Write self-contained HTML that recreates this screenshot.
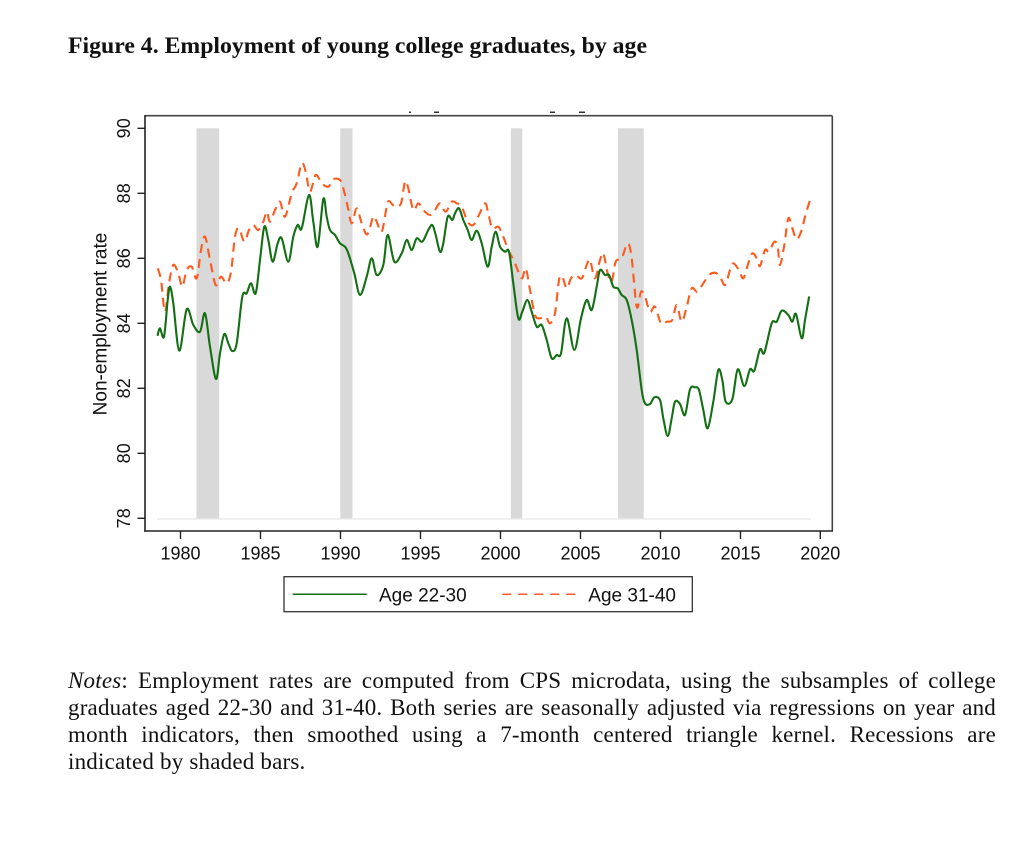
<!DOCTYPE html>
<html>
<head>
<meta charset="utf-8">
<style>
html,body{margin:0;padding:0;background:#fff;}
body{width:1023px;height:841px;position:relative;overflow:hidden;}
.note{position:absolute;left:68px;width:928px;font-family:"Liberation Serif",serif;font-size:23px;letter-spacing:0.2px;line-height:27px;height:27px;color:#111;white-space:nowrap;}
.j{text-align:justify;text-align-last:justify;white-space:normal;}
</style>
</head>
<body>
<svg width="1023" height="841" viewBox="0 0 1023 841" xmlns="http://www.w3.org/2000/svg" style="position:absolute;left:0;top:0">
  <!-- Title -->
  <text x="68" y="53" font-family="Liberation Serif, serif" font-weight="bold" font-size="23.5" fill="#111" textLength="579" lengthAdjust="spacingAndGlyphs">Figure 4. Employment of young college graduates, by age</text>

  <!-- clipped title remnants -->
  <rect x="409" y="111.5" width="2" height="1.5" fill="#333"/>
  <rect x="434" y="111.5" width="5" height="1.5" fill="#333"/>
  <rect x="550" y="111.5" width="5" height="1.5" fill="#333"/>
  <rect x="579" y="111.5" width="6" height="1.5" fill="#333"/>

  <!-- recession bars -->
  <g fill="#d9d9d9">
    <rect x="196.5" y="128.3" width="22.7" height="390.7"/>
    <rect x="340.3" y="128.3" width="12.2" height="390.7"/>
    <rect x="510.8" y="128.3" width="11.5" height="390.7"/>
    <rect x="618" y="128.3" width="25.7" height="390.7"/>
  </g>
  <!-- faint baseline -->
  <line x1="157" y1="519" x2="811" y2="519" stroke="#ececec" stroke-width="1.5"/>

  <!-- series: Age 31-40 -->
  <polyline class="smooth" fill="none" stroke="#ff5a1e" stroke-width="2.1" stroke-dasharray="9 6" stroke-linejoin="round" stroke-linecap="butt" points="157.7,268.3 161,280 165,311.7 169,283.3 173.3,265 178.3,273.3 182.3,286.7 186.7,270 191.7,266.7 196.7,278.3 201,250 205,236.7 210,260 215.7,285 221,276.7 226.7,283.3 231,271.7 235,236.7 239,228.3 244.3,241.7 249,230 253.3,225 258.3,230 263.3,221.7 266.7,211.7 270,221.7 275,210 280,201.7 285,216.7 291.7,193.3 296.7,183.3 301.7,163.3 305.7,171.7 310,191.7 315.7,175 321.7,183.3 328.3,186.7 333.3,179.3 340,180 343.3,188.3 347.7,206.7 351.7,223.3 356.7,208.3 361.7,223.3 367.3,234.3 373.3,216.7 376.7,221.7 381.7,231.7 386.7,206.7 389,201 395,206.7 401,203.3 405,181.7 408.3,188.3 413.3,210 418.3,203.3 423.3,210 430,215 435,210 440,203.3 445.7,211.7 451.7,201.7 456.7,203.3 461.7,206.7 467.7,221.7 473.3,225 479,215 485,203.3 488.3,213.3 492.3,228.3 498.3,226.7 503.3,236.7 508.3,250 514.3,261.7 521.7,278.3 525.7,268.3 530,290 535,315 540,318.3 545.7,316.7 550,323.3 555,313.3 559,280 562.3,276.7 566.7,288.3 571,278.3 575.7,275 581.7,278.3 586.7,265 590,260 595,278.3 600,260 603.3,253.3 607.7,273.3 611.7,281.7 615.7,261.7 621.7,258.3 627.7,243.3 631.7,258.3 636.7,306.7 641,291.7 645,296.7 650,311.7 655,306.7 661,323.3 666.7,321.7 672.3,320 676.7,305 681.7,321.7 686.7,306.7 691.7,288.3 697.3,291.7 703.3,283.3 709,275 715,272.7 720,276.7 725,285 730,270 733.3,263.3 739,270 743.3,278.3 748.3,263.3 752.3,253.3 756.7,258.3 760,266 765,250 769,251.7 774.3,241.7 777.7,246.7 780,265 784.3,245 788.3,218.3 792.3,228.3 796.7,239.3 801.7,230 805,216.7 810,200"/>

  <!-- series: Age 22-30 -->
  <polyline class="smooth" fill="none" stroke="#136f13" stroke-width="2.1" stroke-linejoin="round" stroke-linecap="round" points="157.7,335 160,328.3 164,336.7 167.7,300 170,286.7 173.3,303.3 179.3,350.7 186.7,309.3 193.3,325 200,331.7 205,313.3 210,346.7 216,379 220,353.3 224.3,334 228.3,343.3 232.3,351 236.7,343.3 242.3,296.7 246.7,293.3 251,283.3 255.7,293.3 260,260 264.3,226.7 268.3,240 272.7,261.7 277.7,243.3 281.7,238.3 288.3,261.7 293.3,236.7 297.7,225 301.7,228.3 309,195 313.3,221.7 317.7,246.7 323.3,199 326.7,216.7 330,230 335,235 340,243.3 345,246.7 348.3,253.3 354.3,273.3 360,295 366.7,276.7 371.7,258.3 376.7,275 383.3,265 387.7,235 394.3,261.7 401.7,253.3 406.7,240 411.7,250 416.7,238.3 422.3,241.7 428.3,230 432.3,225 435.7,235 440,251.7 443.3,243.3 447.7,216.7 452.3,220 455,213.3 459,208.3 463.3,220 467.7,230 471.7,240 476.7,230.7 481.7,243.3 487.7,266.7 491.7,246.7 495.7,231.7 500,246.7 505,251.7 509,251.7 513.3,283.3 518.3,318.3 522.3,311.7 527.3,300 531.7,311.7 536.7,326.7 541.7,325 546.7,340 551.7,358.3 556.7,355 561,353.3 566.7,318.3 574.3,350 581,318.3 586.7,300 591.7,310 596.7,286.7 600,270 605,275 609,275 613.3,286.7 617.7,288.3 621.7,295 626.7,300 631.7,320 636.7,350 641.7,390 645,403.3 650,404 654.3,397.3 660,400 663.3,418.3 667.7,436 671.7,418.3 675,401.7 680,404 685,415 690,389.3 695,387.3 699,390 703.3,410 707.7,428.3 713.3,401.7 718.3,370 722.3,380 725.7,401.7 732.3,399.3 737.7,369.3 744.3,386 750,369.3 754.3,370.7 760,349.3 764.3,352.7 771.7,323.3 776.7,321.7 781.7,310.7 788.3,315 792.3,321.7 796,314 801.7,338.3 805,320 809,297.3"/>

  <!-- frame -->
  <line x1="145" y1="115.7" x2="832.3" y2="115.7" stroke="#444" stroke-width="1.6"/>
  <line x1="832.3" y1="115.7" x2="832.3" y2="531" stroke="#444" stroke-width="1.6"/>
  <line x1="145" y1="115" x2="145" y2="531.8" stroke="#222" stroke-width="1.6"/>
  <line x1="144.2" y1="531" x2="833" y2="531" stroke="#222" stroke-width="1.6"/>

  <!-- y ticks -->
  <g stroke="#222" stroke-width="1.4">
    <line x1="137.5" y1="128.3" x2="145" y2="128.3"/>
    <line x1="137.5" y1="193.3" x2="145" y2="193.3"/>
    <line x1="137.5" y1="258.3" x2="145" y2="258.3"/>
    <line x1="137.5" y1="323.3" x2="145" y2="323.3"/>
    <line x1="137.5" y1="388.3" x2="145" y2="388.3"/>
    <line x1="137.5" y1="453.3" x2="145" y2="453.3"/>
    <line x1="137.5" y1="518.3" x2="145" y2="518.3"/>
  </g>
  <g font-family="Liberation Sans, sans-serif" font-size="18" fill="#111" text-anchor="middle">
    <text transform="translate(130,128.3) rotate(-90)">90</text>
    <text transform="translate(130,193.3) rotate(-90)">88</text>
    <text transform="translate(130,258.3) rotate(-90)">86</text>
    <text transform="translate(130,323.3) rotate(-90)">84</text>
    <text transform="translate(130,388.3) rotate(-90)">82</text>
    <text transform="translate(130,453.3) rotate(-90)">80</text>
    <text transform="translate(130,518.3) rotate(-90)">78</text>
  </g>
  <text transform="translate(106.5,324) rotate(-90)" font-family="Liberation Sans, sans-serif" font-size="19" fill="#111" text-anchor="middle">Non-employment rate</text>

  <!-- x ticks -->
  <g stroke="#222" stroke-width="1.4">
    <line x1="180.5" y1="531" x2="180.5" y2="539"/>
    <line x1="260.5" y1="531" x2="260.5" y2="539"/>
    <line x1="340.5" y1="531" x2="340.5" y2="539"/>
    <line x1="420.5" y1="531" x2="420.5" y2="539"/>
    <line x1="500.5" y1="531" x2="500.5" y2="539"/>
    <line x1="580.5" y1="531" x2="580.5" y2="539"/>
    <line x1="660.5" y1="531" x2="660.5" y2="539"/>
    <line x1="740.5" y1="531" x2="740.5" y2="539"/>
    <line x1="820.3" y1="531" x2="820.3" y2="539"/>
  </g>
  <g font-family="Liberation Sans, sans-serif" font-size="18" fill="#111" text-anchor="middle">
    <text x="180.5" y="559.5">1980</text>
    <text x="260.5" y="559.5">1985</text>
    <text x="340.5" y="559.5">1990</text>
    <text x="420.5" y="559.5">1995</text>
    <text x="500.5" y="559.5">2000</text>
    <text x="580.5" y="559.5">2005</text>
    <text x="660.5" y="559.5">2010</text>
    <text x="740.5" y="559.5">2015</text>
    <text x="820.3" y="559.5">2020</text>
  </g>

  <!-- legend -->
  <rect x="284" y="576.7" width="408.3" height="35" fill="#fff" stroke="#333" stroke-width="1.3"/>
  <line x1="292.7" y1="594.3" x2="366.7" y2="594.3" stroke="#136f13" stroke-width="1.5"/>
  <text x="379" y="601.5" font-family="Liberation Sans, sans-serif" font-size="19" fill="#111">Age 22-30</text>
  <line x1="502.3" y1="594.3" x2="577" y2="594.3" stroke="#ff5a1e" stroke-width="1.5" stroke-dasharray="9 7"/>
  <text x="588.3" y="601.5" font-family="Liberation Sans, sans-serif" font-size="19" fill="#111">Age 31-40</text>
</svg>

<div class="note j" style="top:666.7px;"><i>Notes</i>: Employment rates are computed from CPS microdata, using the subsamples of college</div>
<div class="note j" style="top:693.7px;">graduates aged 22-30 and 31-40. Both series are seasonally adjusted via regressions on year and</div>
<div class="note j" style="top:720.7px;">month indicators, then smoothed using a 7-month centered triangle kernel. Recessions are</div>
<div class="note" style="top:747.7px;">indicated by shaded bars.</div>

<script>
(function(){
  var NS="http://www.w3.org/2000/svg";
  var pls=document.querySelectorAll("polyline.smooth");
  for(var i=0;i<pls.length;i++){
    var pl=pls[i];
    var raw=pl.getAttribute("points").trim().split(/\s+/);
    var p=raw.map(function(s){var a=s.split(",");return [parseFloat(a[0]),parseFloat(a[1])];});
    var d="M"+p[0][0]+","+p[0][1];
    for(var k=0;k<p.length-1;k++){
      var p0=p[k>0?k-1:k],p1=p[k],p2=p[k+1],p3=p[k+2<p.length?k+2:k+1];
      var t=6;
      var c1x=p1[0]+(p2[0]-p0[0])/t,c1y=p1[1]+(p2[1]-p0[1])/t;
      var c2x=p2[0]-(p3[0]-p1[0])/t,c2y=p2[1]-(p3[1]-p1[1])/t;
      d+=" C"+c1x.toFixed(2)+","+c1y.toFixed(2)+" "+c2x.toFixed(2)+","+c2y.toFixed(2)+" "+p2[0]+","+p2[1];
    }
    var path=document.createElementNS(NS,"path");
    var attrs=["fill","stroke","stroke-width","stroke-dasharray","stroke-linejoin","stroke-linecap"];
    for(var a=0;a<attrs.length;a++){var v=pl.getAttribute(attrs[a]);if(v!==null)path.setAttribute(attrs[a],v);}
    path.setAttribute("d",d);
    pl.parentNode.replaceChild(path,pl);
  }
})();
</script>
</body>
</html>
